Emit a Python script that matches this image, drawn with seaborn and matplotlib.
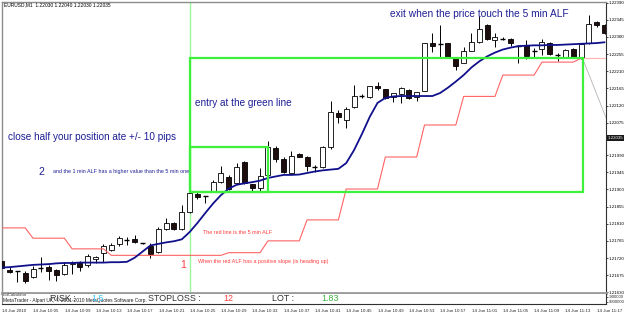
import matplotlib
matplotlib.use("Agg")
import matplotlib.pyplot as plt
import matplotlib.transforms as mtransforms
import numpy as np
import pandas as pd
import seaborn as sns

# ---------------- data (EURUSD M1, 14 Jun 2010, 10:01 .. 11:18) ----------------
opens = [1.21712, 1.21689, 1.21685, 1.21681, 1.21670, 1.21693, 1.21696, 1.21689, 1.21677, 1.21704,
         1.21707, 1.21702, 1.21717, 1.21732, 1.21741, 1.21756, 1.21767, 1.21769, 1.21759, 1.21752,
         1.21737, 1.21795, 1.21813, 1.21795, 1.21841, 1.21888, 1.21882, 1.21894, 1.21920, 1.21932,
         1.21916, 1.21973, 1.21914, 1.21903, 1.21938, 1.22008, 1.21979, 1.21944, 1.21992, 1.21986,
         1.21960, 1.21958, 1.22012, 1.22101, 1.22082, 1.22115, 1.22144, 1.22142, 1.22170, 1.22163,
         1.22143, 1.22150, 1.22161, 1.22143, 1.22158, 1.22283, 1.22281, 1.22283, 1.22245, 1.22232,
         1.22264, 1.22286, 1.22331, 1.22292, 1.22295, 1.22295, 1.22277, 1.22279, 1.22262, 1.22268,
         1.22285, 1.22253, 1.22246, 1.22268, 1.22245, 1.22283, 1.22339, 1.22331]
highs = [1.21720, 1.21696, 1.21686, 1.21687, 1.21700, 1.21723, 1.21702, 1.21690, 1.21710, 1.21712,
         1.21712, 1.21730, 1.21724, 1.21756, 1.21759, 1.21778, 1.21776, 1.21780, 1.21760, 1.21759,
         1.21801, 1.21824, 1.21814, 1.21859, 1.21896, 1.21892, 1.21883, 1.21925, 1.21961, 1.21938,
         1.21970, 1.21974, 1.21915, 1.21955, 1.22028, 1.22014, 1.21986, 1.22002, 1.21995, 1.21988,
         1.21964, 1.22013, 1.22132, 1.22108, 1.22117, 1.22174, 1.22150, 1.22171, 1.22183, 1.22164,
         1.22153, 1.22169, 1.22164, 1.22156, 1.22285, 1.22310, 1.22331, 1.22284, 1.22247, 1.22274,
         1.22310, 1.22356, 1.22333, 1.22310, 1.22300, 1.22296, 1.22278, 1.22292, 1.22270, 1.22294,
         1.22287, 1.22257, 1.22268, 1.22270, 1.22283, 1.22358, 1.22341, 1.22334]
lows = [1.21689, 1.21681, 1.21657, 1.21655, 1.21668, 1.21684, 1.21662, 1.21660, 1.21675, 1.21678,
        1.21687, 1.21697, 1.21706, 1.21710, 1.21739, 1.21752, 1.21754, 1.21760, 1.21757, 1.21719,
        1.21734, 1.21794, 1.21794, 1.21793, 1.21839, 1.21874, 1.21864, 1.21893, 1.21916, 1.21898,
        1.21915, 1.21914, 1.21896, 1.21896, 1.21936, 1.21973, 1.21942, 1.21943, 1.21985, 1.21948,
        1.21946, 1.21956, 1.22005, 1.22073, 1.22060, 1.22114, 1.22141, 1.22141, 1.22161, 1.22137,
        1.22130, 1.22126, 1.22138, 1.22132, 1.22157, 1.22261, 1.22248, 1.22245, 1.22213, 1.22231,
        1.22263, 1.22285, 1.22293, 1.22274, 1.22291, 1.22276, 1.22231, 1.22241, 1.22248, 1.22253,
        1.22253, 1.22237, 1.22244, 1.22245, 1.22243, 1.22282, 1.22325, 1.22308]
closes = [1.21694, 1.21683, 1.21685, 1.21660, 1.21691, 1.21693, 1.21687, 1.21675, 1.21702, 1.21707,
          1.21696, 1.21726, 1.21722, 1.21751, 1.21754, 1.21773, 1.21767, 1.21761, 1.21758, 1.21730,
          1.21796, 1.21813, 1.21795, 1.21841, 1.21891, 1.21881, 1.21880, 1.21920, 1.21942, 1.21900,
          1.21960, 1.21916, 1.21903, 1.21935, 1.22010, 1.21979, 1.21946, 1.21988, 1.21986, 1.21961,
          1.21959, 1.22010, 1.22102, 1.22091, 1.22110, 1.22145, 1.22142, 1.22170, 1.22165, 1.22141,
          1.22152, 1.22165, 1.22139, 1.22155, 1.22283, 1.22277, 1.22280, 1.22246, 1.22223, 1.22264,
          1.22286, 1.22320, 1.22294, 1.22301, 1.22294, 1.22283, 1.22276, 1.22251, 1.22261, 1.22288,
          1.22254, 1.22252, 1.22266, 1.22246, 1.22282, 1.22334, 1.22331, 1.22310]

# 1 min ALF (blue)
alf_1min = [1.21695, 1.21696, 1.21698, 1.21700, 1.21702, 1.21703, 1.21704, 1.21706, 1.21707, 1.21707,
            1.21708, 1.21708, 1.21708, 1.21708, 1.21709, 1.21709, 1.21710, 1.21721, 1.21737, 1.21753,
            1.21757, 1.21761, 1.21764, 1.21769, 1.21788, 1.21812, 1.21838, 1.21863, 1.21885, 1.21902,
            1.21912, 1.21916, 1.21919, 1.21923, 1.21930, 1.21934, 1.21938, 1.21938, 1.21939, 1.21943,
            1.21947, 1.21950, 1.21952, 1.21954, 1.21969, 1.22003, 1.22045, 1.22090, 1.22127, 1.22140,
            1.22144, 1.22145, 1.22145, 1.22145, 1.22145, 1.22145, 1.22153, 1.22167, 1.22183, 1.22200,
            1.22220, 1.22236, 1.22249, 1.22259, 1.22267, 1.22272, 1.22276, 1.22277, 1.22278, 1.22278,
            1.22279, 1.22279, 1.22280, 1.22281, 1.22282, 1.22283, 1.22284, 1.22286]
# 5 min ALF (red, stepped)
alf_5min = [1.21799, 1.21799, 1.21799, 1.21799, 1.21772, 1.21772, 1.21772, 1.21772, 1.21772, 1.21744,
            1.21744, 1.21744, 1.21744, 1.21744, 1.21727, 1.21727, 1.21727, 1.21727, 1.21727, 1.21727,
            1.21727, 1.21727, 1.21727, 1.21727, 1.21727, 1.21727, 1.21727, 1.21727, 1.21727, 1.21734,
            1.21734, 1.21734, 1.21734, 1.21734, 1.21765, 1.21765, 1.21765, 1.21765, 1.21765, 1.21820,
            1.21820, 1.21820, 1.21820, 1.21820, 1.21901, 1.21901, 1.21901, 1.21901, 1.21901, 1.21985,
            1.21985, 1.21985, 1.21985, 1.21985, 1.22069, 1.22069, 1.22069, 1.22069, 1.22069, 1.22144,
            1.22144, 1.22144, 1.22144, 1.22144, 1.22200, 1.22200, 1.22200, 1.22200, 1.22200, 1.22234,
            1.22234, 1.22234, 1.22234, 1.22234, 1.22244, 1.22244, 1.22244, 1.22244]

time_tick_bars = [0, 4, 8, 12, 16, 20, 24, 28, 32, 36, 40, 44, 48, 52, 56, 60, 64, 68, 72, 76]
time_tick_labels = ["14 Jun 2010", "14 Jun 10:05", "14 Jun 10:09", "14 Jun 10:13", "14 Jun 10:17",
                    "14 Jun 10:21", "14 Jun 10:25", "14 Jun 10:29", "14 Jun 10:33", "14 Jun 10:37",
                    "14 Jun 10:41", "14 Jun 10:45", "14 Jun 10:49", "14 Jun 10:53", "14 Jun 10:57",
                    "14 Jun 11:01", "14 Jun 11:05", "14 Jun 11:09", "14 Jun 11:13", "14 Jun 11:17"]
price_ticks = [1.21630, 1.21675, 1.21720, 1.21765, 1.21810, 1.21855, 1.21900, 1.21945, 1.21990,
               1.22075, 1.22120, 1.22165, 1.22210, 1.22255, 1.22300, 1.22345, 1.22390]
current_price = 1.22035

# chart objects
entry_bar = 24
big_rect = (24, 74.2, 1.21893, 1.22245)      # bar0, bar1, price0, price1
small_rect = (24, 34, 1.21894, 1.22011)
trend_bars = [74.2, 77.2]
trend_prices = [1.22243, 1.22087]

# ---------------- styling ----------------
sns.set_style("white")
plt.rcParams['font.family'] = ['Liberation Sans', 'DejaVu Sans']

W, H = 625, 315
fig = plt.figure(figsize=(W / 100, H / 100), dpi=100)
fig.patch.set_facecolor('white')


def fx(px):
    return px / W


def fy(py):
    return 1 - py / H


ax = fig.add_axes([fx(2), fy(293), fx(606) - fx(2), fy(2) - fy(293)])
ax2 = fig.add_axes([fx(2), fy(304), fx(606) - fx(2), fy(294) - fy(304)])
for a in (ax, ax2):
    a.set_facecolor('white')

df = pd.DataFrame({"bar": np.arange(len(opens)), "open": opens, "high": highs,
                   "low": lows, "close": closes, "alf1": alf_1min, "alf5": alf_5min})

# candles
body_w = 0.64
ax.vlines(df["bar"], df["low"], df["high"], color='black', lw=0.7, zorder=2)
doji = (df["close"] - df["open"]).abs() < 0.000025
up = (df["close"] > df["open"]) & ~doji
dn = (df["close"] <= df["open"]) & ~doji
ax.bar(df.loc[up, "bar"], (df.loc[up, "close"] - df.loc[up, "open"]), bottom=df.loc[up, "open"],
       width=body_w, facecolor='white', edgecolor='black', linewidth=0.6, zorder=3)
ax.bar(df.loc[dn, "bar"], (df.loc[dn, "open"] - df.loc[dn, "close"]), bottom=df.loc[dn, "close"],
       width=body_w, facecolor='#1e0e0e', edgecolor='black', linewidth=0.6, zorder=3)
ax.hlines(df.loc[doji, "open"], df.loc[doji, "bar"] - body_w / 2, df.loc[doji, "bar"] + body_w / 2,
          color='black', lw=1.0, zorder=3)

# ALF lines
sns.lineplot(data=df.iloc[:75], x="bar", y="alf5", ax=ax, color='#ff6464', linewidth=0.8, zorder=4)
sns.lineplot(data=df.iloc[74:], x="bar", y="alf5", ax=ax, color='#ffb4b4', linewidth=0.8, zorder=4)
sns.lineplot(data=df, x="bar", y="alf1", ax=ax, color='#10108c', linewidth=1.3, zorder=5)

# chart objects
green = '#3cf03c'
ax.axvline(entry_bar, color='#9cf59c', lw=1.0, zorder=1)
for (b0, b1, p0, p1) in (big_rect, small_rect):
    ax.plot([b0, b1, b1, b0, b0], [p0, p0, p1, p1, p0], color=green, lw=1.6, zorder=6,
            solid_joinstyle='miter')
ax.plot(trend_bars, trend_prices, color='#b4b4b4', lw=0.6, zorder=4)

ax.set_xlim(0.04, 77.18)
ax.set_ylim(1.216282, 1.223917)
ax.set_xlabel("")
ax.set_ylabel("")
ax.set_xticks([])
ax.yaxis.tick_right()
ax.set_yticks(price_ticks)
ax.set_yticklabels([f"{p:.5f}" for p in price_ticks])
ax.tick_params(axis='y', which='both', right=True, length=1.5, width=0.5, pad=0.6,
               labelsize=3.15, colors='black', direction='out')

trans = mtransforms.blended_transform_factory(ax.transAxes, ax.transData)
ax.text(1.003, current_price, f"{current_price:.5f}", transform=trans, ha='left', va='center',
        fontsize=3.15, color='white',
        bbox=dict(boxstyle='square,pad=0.15', fc='#1a1a1a', ec='none'), zorder=10, clip_on=False)

for s in ('left', 'top'):
    ax.spines[s].set_color('#8c8c8c')
    ax.spines[s].set_linewidth(1.0)
ax.spines['right'].set_color('#303030')
ax.spines['right'].set_linewidth(0.8)
ax.spines['bottom'].set_color('#9a9a9a')
ax.spines['bottom'].set_linewidth(2.0)

# sub window (indicator) + time axis
ax2.set_xlim(0.04, 77.18)
ax2.set_ylim(0, 1)
ax2.set_xticks(time_tick_bars)
ax2.set_xticklabels(time_tick_labels, ha='left')
ax2.tick_params(axis='x', length=2, width=0.5, pad=1.5, labelsize=3.2, direction='out')
ax2.yaxis.tick_right()
ax2.set_yticks([0.72, 0.22])
ax2.set_yticklabels(["-900000", "9000000"])
ax2.tick_params(axis='y', length=1.5, width=0.5, pad=0.6, labelsize=3.0, direction='out')
ax2.spines['top'].set_visible(False)
ax2.spines['left'].set_color('#8c8c8c')
ax2.spines['right'].set_color('#303030')
ax2.spines['right'].set_linewidth(0.8)
ax2.spines['bottom'].set_color('#303030')
ax2.spines['bottom'].set_linewidth(0.8)

# ---------------- texts ----------------
navy = '#1e1e96'
red = '#ff3c3c'
fig.text(fx(4), fy(5), "EURUSD,M1  1.22030 1.22040 1.22030 1.22035", fontsize=3.5,
         color='black', va='center', ha='left')
fig.text(fx(390), fy(14), "exit when the price touch the 5 min ALF", fontsize=7.3,
         color=navy, va='center', ha='left')
fig.text(fx(195), fy(103), "entry at the green line", fontsize=7.2, color=navy, va='center', ha='left')
fig.text(fx(8), fy(137), "close half your position ate +/- 10 pips", fontsize=7.2, color=navy,
         va='center', ha='left')
fig.text(fx(38), fy(172), "2", fontsize=7.5, color=navy, va='center', ha='left')
fig.text(fx(53), fy(172), "and the 1 min ALF has a higher value than the 5 min one", fontsize=3.9,
         color=navy, va='center', ha='left')
fig.text(fx(203), fy(232), "The red line is the 5 min ALF", fontsize=3.9, color=red,
         va='center', ha='left')
fig.text(fx(180), fy(265), "1", fontsize=7.5, color=red, va='center', ha='left')
fig.text(fx(198), fy(262), "When the red ALF has a positive slope (is heading up)", fontsize=3.9,
         color=red, va='center', ha='left')

fig.text(fx(3), fy(295.5), "LotCalculator", fontsize=3.0, color='#303030', va='center', ha='left')
fig.text(fx(3), fy(300.5), "MetaTrader - Alpari UK, \u00a9 2001-2010 MetaQuotes Software Corp.",
         fontsize=3.5, color='#202020', va='center', ha='left')
fig.text(fx(50), fy(298.5), "RISK :", fontsize=6.4, color='#303030', va='center', ha='left')
fig.text(fx(91), fy(298.5), "1.5", fontsize=6.4, color='#3cc8ff', va='center', ha='left')
fig.text(fx(148), fy(298.5), "STOPLOSS :", fontsize=6.4, color='#303030', va='center', ha='left')
fig.text(fx(223), fy(298.5), "12", fontsize=6.4, color='#ff4040', va='center', ha='left')
fig.text(fx(272), fy(298.5), "LOT :", fontsize=6.4, color='#303030', va='center', ha='left')
fig.text(fx(321), fy(298.5), "1.83", fontsize=6.4, color='#3cb43c', va='center', ha='left')

fig.savefig("out.png", dpi=100, facecolor='white')
